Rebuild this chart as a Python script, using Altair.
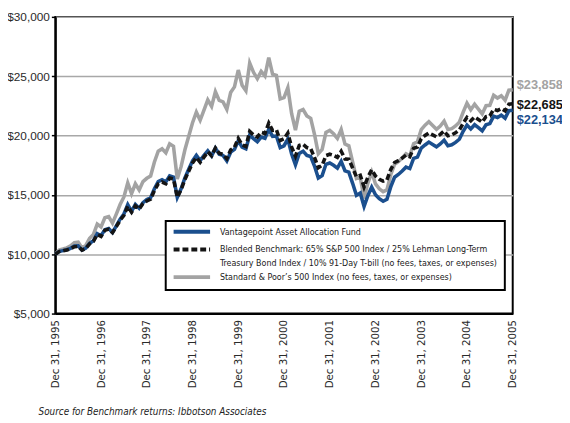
import json
import altair as alt
import pandas as pd

# ---- data (month-end values, Dec 1995 .. Dec 2005) ----
sp500 = [10000,
 10346,10436,10539,10700,10965,11010,10526,10743,11346,11665,12543,12296,
 13069,13166,12624,13382,14187,14825,16006,15108,15935,15408,16120,16398,
 16587,17776,18687,18879,18549,19305,19103,16339,17379,18799,19934,21084,
 21972,21285,22134,22998,22448,23692,22958,22838,22210,23623,24099,25521,
 24245,23781,26108,25327,24794,25411,25023,26567,25169,25069,23084,23199,
 24027,21835,20457,22053,22188,21656,21447,20095,18471,18826,20262,20441,
 20151,19760,20514,19280,19131,17771,16388,16491,14697,15987,16923,15924,
 15510,15270,15421,16698,17572,17798,18114,18465,18273,19306,19472,20491,
 20875,21161,20845,20524,20802,21206,20507,20583,20807,21127,21976,22721,
 22180,22635,22235,21824,22512,22542,23389,23160,23357,22978,23823,23858]

blended = [10000,
 10225,10285,10352,10458,10631,10661,10347,10489,10882,11089,11660,11501,
 12012,12112,11824,12326,12856,13285,14044,13539,14083,13804,14278,14488,
 14639,15365,15931,16084,15938,16415,16342,14797,15437,16296,16990,17694,
 18149,17745,18179,18622,18292,18942,18513,18418,18046,18787,19018,19764,
 19217,19077,20344,20045,19872,20277,20177,21049,20440,20484,19580,19732,
 20208,19014,18271,19171,19264,18988,18891,18162,17282,17497,18309,18426,
 18324,18163,18673,18018,17998,17270,16527,16656,15672,16496,17112,16594,
 16317,16158,16264,17133,17729,17886,18103,18345,18218,18922,19038,19732,
 20006,20219,20055,19887,20095,20382,19978,20059,20233,20466,21032,21532,
 21238,21556,21349,21134,21597,21654,22215,22112,22272,22078,22637,22685]

fund = [10000,
 10225,10306,10383,10500,10684,10704,10347,10510,10926,11144,11730,11559,
 12072,12173,11824,12388,12959,13391,14184,13607,14196,13873,14349,14604,
 14756,15519,16122,16277,16097,16612,16505,14797,15514,16426,17160,17871,
 18330,17887,18324,18715,18292,18942,18420,18326,17866,18599,18828,19566,
 19025,18886,20039,19744,19475,19871,19773,20523,19929,19972,18993,19140,
 19703,18444,17540,18500,18686,18323,18230,17436,16418,16622,17577,17689,
 17499,17255,17833,17027,16918,15975,14957,15157,14026,14929,15657,15018,
 14685,14461,14638,15677,16488,16723,17017,17336,17216,18071,18181,18943,
 19206,19451,19253,19052,19291,19607,19139,19217,19424,19688,20359,20886,
 20558,20909,20666,20394,20906,21004,21637,21515,21715,21460,22094,22134]

tick_labels = ["Dec 31, 1995", "Dec 31, 1996", "Dec 31, 1997", "Dec 31, 1998",
               "Dec 31, 1999", "Dec 31, 2000", "Dec 31, 2001", "Dec 31, 2002",
               "Dec 31, 2003", "Dec 31, 2004", "Dec 31, 2005"]
y_ticks = [5000, 10000, 15000, 20000, 25000, 30000]

legend_fund = "Vantagepoint Asset Allocation Fund"
legend_blend_1 = "Blended Benchmark: 65% S&P 500 Index  / 25% Lehman Long-Term"
legend_blend_2 = "Treasury Bond Index / 10% 91-Day T-bill (no fees, taxes, or expenses)"
legend_sp = "Standard & Poor\u2019s 500 Index (no fees, taxes, or expenses)"
source_text = "Source for Benchmark returns: Ibbotson Associates"

# ---- styling ----
NARROW = "DejaVu Sans Condensed, Liberation Sans, sans-serif"
NUM = "Liberation Sans, Arial, sans-serif"
BLUE = "#1b4f8e"
BLACK = "#141414"
GRAY = "#a3a3a3"

months = list(range(len(sp500)))
df_sp = pd.DataFrame({"m": months, "v": sp500})
df_bl = pd.DataFrame({"m": months, "v": blended})
df_fd = pd.DataFrame({"m": months, "v": fund})

xscale = alt.Scale(domain=[0, 120], nice=False, zero=False)
yscale = alt.Scale(domain=[5000, 30000], nice=False, zero=False)

label_expr = json.dumps(tick_labels) + "[round(datum.value / 12)]"

x_axis = alt.Axis(values=[i * 12 for i in range(len(tick_labels))],
                  labelExpr=label_expr, labelAngle=270, ticks=False, grid=False,
                  domainColor="black", domainWidth=2, labelPadding=6,
                  labelFont=NARROW, labelFontSize=11.5, labelColor="#2a2a2a",
                  labelOverlap=False, title=None)
y_axis = alt.Axis(values=y_ticks, format="$,.0f", tickSize=4, tickColor="black",
                  tickWidth=1.5, domainColor="black", domainWidth=2,
                  labelFont=NUM, labelFontSize=12, labelColor="#2a2a2a",
                  labelPadding=2, gridColor="#a8a8a8", gridWidth=1.5, title=None)

X = alt.X("m:Q", scale=xscale, axis=x_axis)
Y = alt.Y("v:Q", scale=yscale, axis=y_axis)

def line_layer(df, color, dash=None):
    kw = dict(strokeWidth=3.6, color=color, strokeJoin="miter")
    if dash:
        kw["strokeDash"] = dash
        kw["strokeCap"] = "butt"
    return alt.Chart(df).mark_line(**kw).encode(x=X, y=Y)

gray_line = line_layer(df_sp, GRAY)
blue_line = line_layer(df_fd, BLUE)
black_line = line_layer(df_bl, BLACK, dash=[6, 3])

# end-of-period value labels
def end_label(values, color, dy):
    d = pd.DataFrame({"m": [months[-1]], "v": [values[-1]]})
    return alt.Chart(d).mark_text(align="left", baseline="middle", dx=4, dy=dy,
                                  font=NUM, fontSize=13, fontWeight="bold",
                                  color=color).encode(
        x=X, y=Y, text=alt.Text("v:Q", format="$,.0f"))

lbl_sp = end_label(sp500, GRAY, -5)
lbl_bl = end_label(blended, BLACK, 1)
lbl_fd = end_label(fund, BLUE, 10)

# legend box (drawn by hand)
one = pd.DataFrame({"a": [0]})
box = alt.Chart(one).mark_rect(fill="white", stroke="black", strokeWidth=2).encode(
    x=alt.value(112), x2=alt.value(456), y=alt.value(207), y2=alt.value(277))

def sym(yv, color, dash=None, width=4):
    kw = dict(color=color, strokeWidth=width)
    if dash:
        kw["strokeDash"] = dash
    return alt.Chart(one).mark_rule(**kw).encode(
        x=alt.value(120), x2=alt.value(157), y=alt.value(yv))

sym_fd = sym(218, BLUE)
sym_bl = sym(236, BLACK, dash=[6, 3])
sym_sp = sym(264, GRAY)

def txt(yv, s, x=167, size=9, style="normal", color="#1a1a1a"):
    return alt.Chart(one).mark_text(align="left", baseline="middle", font=NARROW,
                                    fontSize=size, fontStyle=style,
                                    color=color).encode(
        x=alt.value(x), y=alt.value(yv), text=alt.value(s))

t1 = txt(218, legend_fund)
t2 = txt(236, legend_blend_1)
t3 = txt(250, legend_blend_2)
t4 = txt(264, legend_sp)
src = txt(401, source_text, x=-17, size=10, style="italic", color="#222")

chart = alt.layer(
    gray_line, blue_line, black_line, lbl_sp, lbl_bl, lbl_fd,
    box, sym_fd, sym_bl, sym_sp, t1, t2, t3, t4, src
).properties(
    width=464, height=301,
    autosize=alt.AutoSizeParams(type="none"),
    padding={"left": 48, "top": 6, "right": 50, "bottom": 107},
).configure_view(
    stroke="black", strokeWidth=2
)

chart.save("out.html", embed_options={"renderer": "svg", "actions": False})
